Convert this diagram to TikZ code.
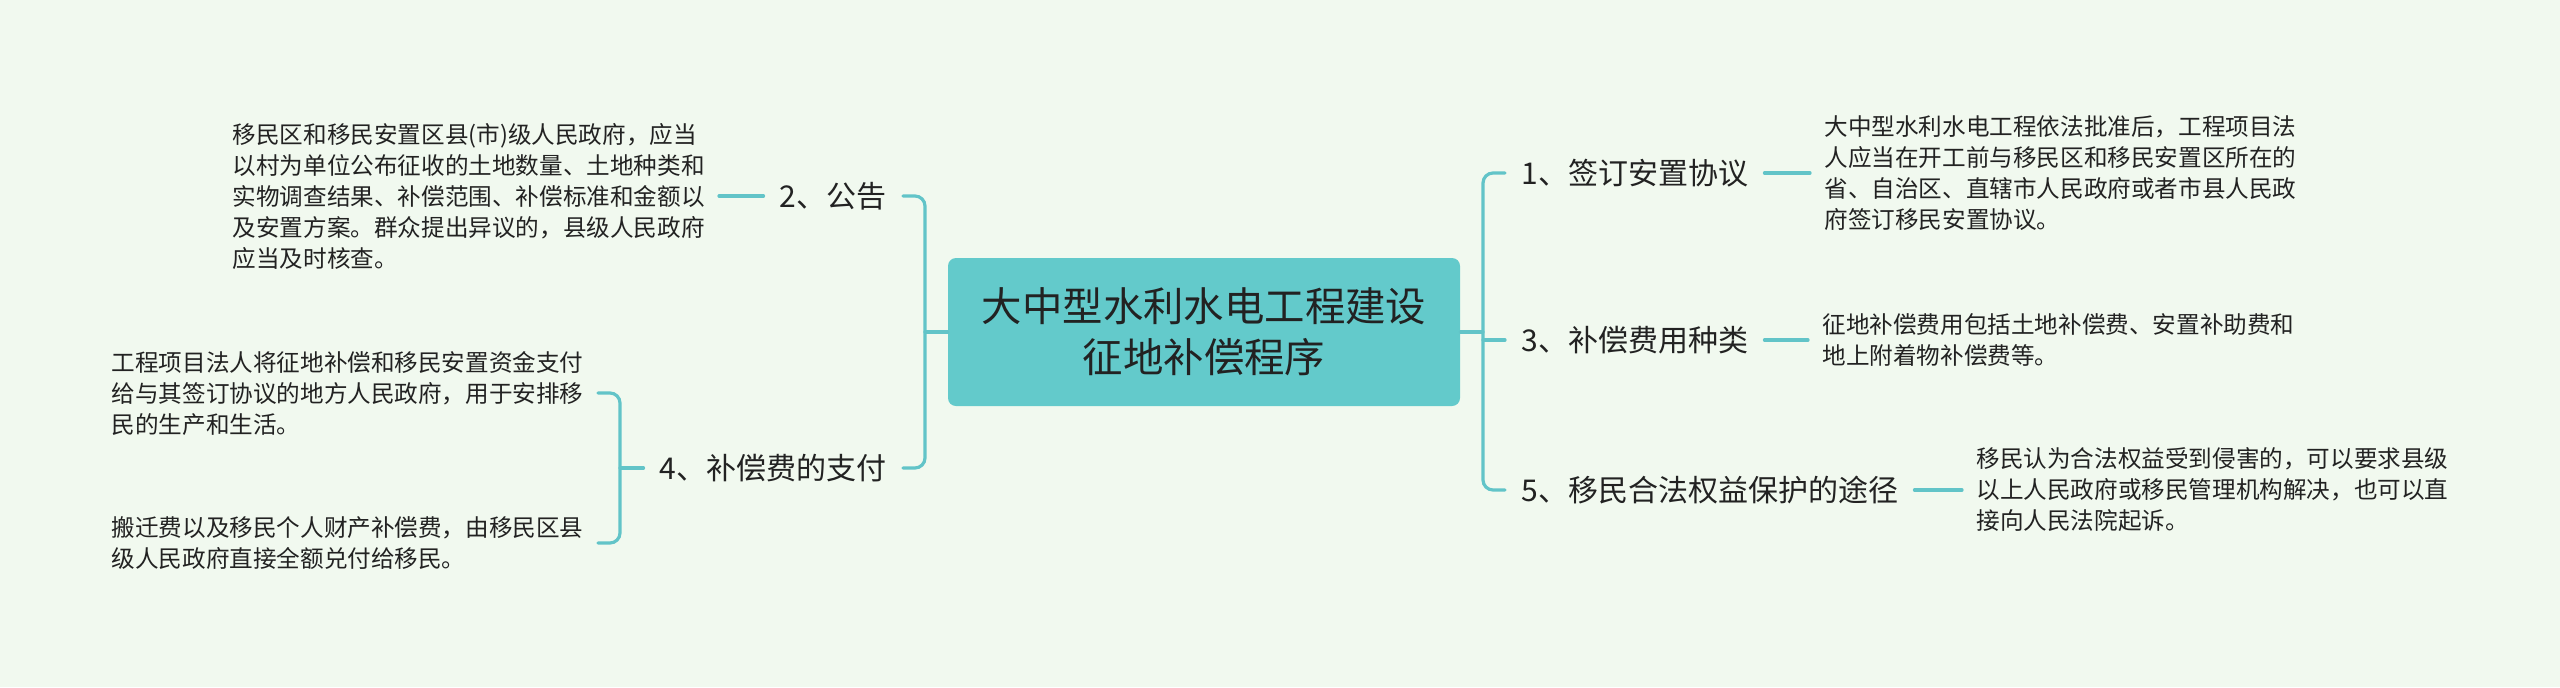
\documentclass[tikz,border=0pt]{standalone}
\usepackage{fontspec}
\setmainfont{Noto Sans CJK SC}
\definecolor{bgmint}{HTML}{F1F9EF}
\definecolor{rootteal}{HTML}{63CACB}
\definecolor{linkteal}{HTML}{62C4C8}
\definecolor{textdark}{HTML}{222222}
\begin{document}
\begin{tikzpicture}[x=0.5pt,y=-0.5pt,line join=round,line cap=round,
	link/.style={draw=linkteal,line width=1.6pt,rounded corners=5pt},
	leaf/.style={inner xsep=7pt,inner ysep=0pt,align=left,text=textdark,font=\fontsize{11.8}{15.5}\selectfont},
	branch/.style={inner xsep=8pt,inner ysep=2pt,text=textdark,font=\fontsize{15}{18}\selectfont},
	rootbox/.style={fill=rootteal,rounded corners=4pt,minimum width=256pt,minimum height=74pt,align=center,text=textdark,font=\fontsize{20.2}{25.5}\selectfont}]
	
	% Nền
	\fill[bgmint] (0,0) rectangle (2560,687);
	\useasboundingbox (0,0) rectangle (2560,687);
	
	% Trục dọc hai bên
	\def\xl{925} % trục trái
	\def\xr{1483} % trục phải
	\def\xs{620} % trục nhánh 4
	
	% Gốc
	\node[rootbox] (root) at (1204,332) {大中型水利水电工程建设\\征地补偿程序};
	
	% Nhánh trái
	\node[branch,anchor=east] (n2) at (903,196) {2、公告};
	\node[branch,anchor=east] (n4) at (903,468) {4、补偿费的支付};
	
	\node[leaf,anchor=east] (leaf2) at (719,196) {移民区和移民安置区县(市)级人民政府，应当\\以村为单位公布征收的土地数量、土地种类和\\实物调查结果、补偿范围、补偿标准和金额以\\及安置方案。群众提出异议的，县级人民政府\\应当及时核查。};
	\node[leaf,anchor=east] (leaf4a) at (598,393) {工程项目法人将征地补偿和移民安置资金支付\\给与其签订协议的地方人民政府，用于安排移\\民的生产和生活。};
	\node[leaf,anchor=east] (leaf4b) at (598,543) {搬迁费以及移民个人财产补偿费，由移民区县\\级人民政府直接全额兑付给移民。};
	
	% Nhánh phải
	\node[branch,anchor=west] (n1) at (1505,173) {1、签订安置协议};
	\node[branch,anchor=west] (n3) at (1505,340) {3、补偿费用种类};
	\node[branch,anchor=west] (n5) at (1505,490) {5、移民合法权益保护的途径};
	
	\node[leaf,anchor=west] (leaf1) at (1810,173) {大中型水利水电工程依法批准后，工程项目法\\人应当在开工前与移民区和移民安置区所在的\\省、自治区、直辖市人民政府或者市县人民政\\府签订移民安置协议。};
	\node[leaf,anchor=west] (leaf3) at (1808,340) {征地补偿费用包括土地补偿费、安置补助费和\\地上附着物补偿费等。};
	\node[leaf,anchor=west] (leaf5) at (1962,490) {移民认为合法权益受到侵害的，可以要求县级\\以上人民政府或移民管理机构解决，也可以直\\接向人民法院起诉。};
	
	% Đường nối trái
	\coordinate (tl) at (\xl,332);
	\coordinate (t4) at (\xs,468);
	\draw[link] (root.west) -- (tl);
	\draw[link] (n2.east) -| (tl) |- (n4.east);
	\draw[link] (leaf2.east) -- (n2.west);
	\draw[link] (t4) -- (n4.west);
	\draw[link] (leaf4a.east) -| (t4) |- (leaf4b.east);
	
	% Đường nối phải
	\coordinate (tr) at (\xr,332);
	\draw[link] (root.east) -- (tr);
	\draw[link] (n1.west) -| (tr) |- (n5.west);
	\draw[link] (n3.west -| tr) -- (n3.west);
	\draw[link] (n1.east) -- (leaf1.west);
	\draw[link] (n3.east) -- (leaf3.west);
	\draw[link] (n5.east) -- (leaf5.west);
	
\end{tikzpicture}
\end{document}
